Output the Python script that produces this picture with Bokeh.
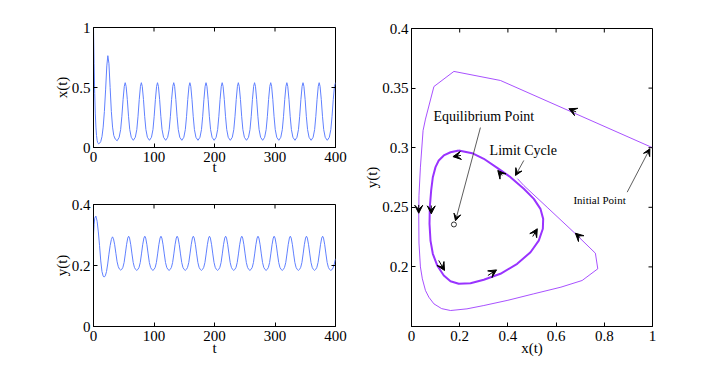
import math
from bokeh.plotting import figure
from bokeh.layouts import row, column
from bokeh.models import (Range1d, FixedTicker, Arrow, VeeHead, Label, ColumnDataSource)
from bokeh.embed import file_html
from bokeh.resources import INLINE

# ---------------- data ----------------
# x(t): time samples and values
X_T = [0, 1, 2, 3, 4, 5, 6, 7, 8.5, 10, 12, 14, 16, 18, 20, 22, 23.7, 25.5, 27.5, 29.5, 31.5, 33.5, 36,
       39.1, 42.4, 44.9, 46.9, 48.9, 50.9, 52.4, 53.9, 55.9, 57.9, 59.9, 62.4,
       65.8, 69.1, 71.6, 73.6, 75.6, 77.6, 79.1, 80.6, 82.6, 84.6, 86.6, 89.1,
       92.5, 95.8, 98.3, 100.3, 102.3, 104.3, 105.8, 107.3, 109.3, 111.3, 113.3, 115.8,
       119.3, 122.6, 125.1, 127.1, 129.1, 131.1, 132.6, 134.1, 136.1, 138.1, 140.1, 142.6,
       146.0, 149.3, 151.8, 153.8, 155.8, 157.8, 159.3, 160.8, 162.8, 164.8, 166.8, 169.3,
       172.7, 176.0, 178.5, 180.5, 182.5, 184.5, 186.0, 187.5, 189.5, 191.5, 193.5, 196.0,
       199.4, 202.7, 205.2, 207.2, 209.2, 211.2, 212.7, 214.2, 216.2, 218.2, 220.2, 222.7,
       226.1, 229.4, 231.9, 233.9, 235.9, 237.9, 239.4, 240.9, 242.9, 244.9, 246.9, 249.4,
       252.9, 256.2, 258.7, 260.7, 262.7, 264.7, 266.2, 267.7, 269.7, 271.7, 273.7, 276.2,
       279.6, 282.9, 285.4, 287.4, 289.4, 291.4, 292.9, 294.4, 296.4, 298.4, 300.4, 302.9,
       306.3, 309.6, 312.1, 314.1, 316.1, 318.1, 319.6, 321.1, 323.1, 325.1, 327.1, 329.6,
       333.0, 336.3, 338.8, 340.8, 342.8, 344.8, 346.3, 347.8, 349.8, 351.8, 353.8, 356.3,
       359.7, 363.0, 365.5, 367.5, 369.5, 371.5, 373.0, 374.5, 376.5, 378.5, 380.5, 383.0,
       386.4, 389.8, 392.3, 394.3, 396.3, 398.3, 400.0]
X_V = [1.0, 0.7, 0.45, 0.28, 0.17, 0.1, 0.06, 0.04, 0.03, 0.035, 0.05, 0.09, 0.17, 0.3, 0.48, 0.68, 0.765, 0.7, 0.5, 0.3, 0.17, 0.1, 0.07,
       0.056, 0.085, 0.15, 0.26, 0.40, 0.51, 0.54, 0.51, 0.40, 0.26, 0.15, 0.085,
       0.06, 0.085, 0.15, 0.26, 0.40, 0.51, 0.54, 0.51, 0.40, 0.26, 0.15, 0.085,
       0.06, 0.085, 0.15, 0.26, 0.40, 0.51, 0.54, 0.51, 0.40, 0.26, 0.15, 0.085,
       0.06, 0.085, 0.15, 0.26, 0.40, 0.51, 0.54, 0.51, 0.40, 0.26, 0.15, 0.085,
       0.06, 0.085, 0.15, 0.26, 0.40, 0.51, 0.54, 0.51, 0.40, 0.26, 0.15, 0.085,
       0.06, 0.085, 0.15, 0.26, 0.40, 0.51, 0.54, 0.51, 0.40, 0.26, 0.15, 0.085,
       0.06, 0.085, 0.15, 0.26, 0.40, 0.51, 0.54, 0.51, 0.40, 0.26, 0.15, 0.085,
       0.06, 0.085, 0.15, 0.26, 0.40, 0.51, 0.54, 0.51, 0.40, 0.26, 0.15, 0.085,
       0.06, 0.085, 0.15, 0.26, 0.40, 0.51, 0.54, 0.51, 0.40, 0.26, 0.15, 0.085,
       0.06, 0.085, 0.15, 0.26, 0.40, 0.51, 0.54, 0.51, 0.40, 0.26, 0.15, 0.085,
       0.06, 0.085, 0.15, 0.26, 0.40, 0.51, 0.54, 0.51, 0.40, 0.26, 0.15, 0.085,
       0.06, 0.085, 0.15, 0.26, 0.40, 0.51, 0.54, 0.51, 0.40, 0.26, 0.15, 0.085,
       0.06, 0.085, 0.15, 0.26, 0.40, 0.51, 0.54, 0.51, 0.40, 0.26, 0.15, 0.085,
       0.06, 0.085, 0.15, 0.26, 0.40, 0.51, 0.54]

# y(t): time samples and values
Y_T = [0, 1, 2, 3.9, 6, 8, 10, 12, 14, 16, 17.6, 19.5, 21.5, 23.5, 25.5, 27.5, 29.5, 31.4, 33, 35, 37, 39, 41, 43, 44.8,
       46.6, 48.6, 50.6, 52.6, 54.6, 56.6, 58.1, 59.6, 61.6, 63.6, 65.6, 67.6, 69.6, 71.5,
       73.3, 75.3, 77.3, 79.3, 81.3, 83.3, 84.8, 86.3, 88.3, 90.3, 92.3, 94.3, 96.3, 98.2,
       100.0, 102.0, 104.0, 106.0, 108.0, 110.0, 111.5, 113.0, 115.0, 117.0, 119.0, 121.0, 123.0, 125.0,
       126.8, 128.8, 130.8, 132.8, 134.8, 136.8, 138.3, 139.8, 141.8, 143.8, 145.8, 147.8, 149.8, 151.7,
       153.5, 155.5, 157.5, 159.5, 161.5, 163.5, 165.0, 166.5, 168.5, 170.5, 172.5, 174.5, 176.5, 178.4,
       180.2, 182.2, 184.2, 186.2, 188.2, 190.2, 191.7, 193.2, 195.2, 197.2, 199.2, 201.2, 203.2, 205.1,
       206.9, 208.9, 210.9, 212.9, 214.9, 216.9, 218.4, 219.9, 221.9, 223.9, 225.9, 227.9, 229.9, 231.8,
       233.6, 235.6, 237.6, 239.6, 241.6, 243.6, 245.1, 246.6, 248.6, 250.6, 252.6, 254.6, 256.6, 258.5,
       260.4, 262.4, 264.4, 266.4, 268.4, 270.4, 271.9, 273.4, 275.4, 277.4, 279.4, 281.4, 283.4, 285.3,
       287.1, 289.1, 291.1, 293.1, 295.1, 297.1, 298.6, 300.1, 302.1, 304.1, 306.1, 308.1, 310.1, 312.0,
       313.8, 315.8, 317.8, 319.8, 321.8, 323.8, 325.3, 326.8, 328.8, 330.8, 332.8, 334.8, 336.8, 338.7,
       340.5, 342.5, 344.5, 346.5, 348.5, 350.5, 352.0, 353.5, 355.5, 357.5, 359.5, 361.5, 363.5, 365.4,
       367.2, 369.2, 371.2, 373.2, 375.2, 377.2, 378.7, 380.2, 382.2, 384.2, 386.2, 388.2, 390.2, 392.1,
       394.0, 396.0, 398.0, 400.0]
Y_V = [0.30, 0.335, 0.355, 0.362, 0.345, 0.31, 0.265, 0.215, 0.18, 0.165, 0.162, 0.166, 0.18, 0.205, 0.237, 0.265, 0.285, 0.294, 0.288, 0.268, 0.24, 0.212, 0.196, 0.188, 0.185,
       0.187, 0.194, 0.21, 0.238, 0.268, 0.29, 0.296, 0.29, 0.268, 0.238, 0.21, 0.194, 0.187, 0.184,
       0.187, 0.194, 0.21, 0.238, 0.268, 0.29, 0.296, 0.29, 0.268, 0.238, 0.21, 0.194, 0.187, 0.184,
       0.187, 0.194, 0.21, 0.238, 0.268, 0.29, 0.296, 0.29, 0.268, 0.238, 0.21, 0.194, 0.187, 0.184,
       0.187, 0.194, 0.21, 0.238, 0.268, 0.29, 0.296, 0.29, 0.268, 0.238, 0.21, 0.194, 0.187, 0.184,
       0.187, 0.194, 0.21, 0.238, 0.268, 0.29, 0.296, 0.29, 0.268, 0.238, 0.21, 0.194, 0.187, 0.184,
       0.187, 0.194, 0.21, 0.238, 0.268, 0.29, 0.296, 0.29, 0.268, 0.238, 0.21, 0.194, 0.187, 0.184,
       0.187, 0.194, 0.21, 0.238, 0.268, 0.29, 0.296, 0.29, 0.268, 0.238, 0.21, 0.194, 0.187, 0.184,
       0.187, 0.194, 0.21, 0.238, 0.268, 0.29, 0.296, 0.29, 0.268, 0.238, 0.21, 0.194, 0.187, 0.184,
       0.187, 0.194, 0.21, 0.238, 0.268, 0.29, 0.296, 0.29, 0.268, 0.238, 0.21, 0.194, 0.187, 0.184,
       0.187, 0.194, 0.21, 0.238, 0.268, 0.29, 0.296, 0.29, 0.268, 0.238, 0.21, 0.194, 0.187, 0.184,
       0.187, 0.194, 0.21, 0.238, 0.268, 0.29, 0.296, 0.29, 0.268, 0.238, 0.21, 0.194, 0.187, 0.184,
       0.187, 0.194, 0.21, 0.238, 0.268, 0.29, 0.296, 0.29, 0.268, 0.238, 0.21, 0.194, 0.187, 0.184,
       0.187, 0.194, 0.21, 0.238, 0.268, 0.29, 0.296, 0.29, 0.268, 0.238, 0.21, 0.194, 0.187, 0.184,
       0.186, 0.192, 0.205, 0.222]

# phase plane: transient trajectory from the initial point
TRAJ_X = [1.0, 0.369, 0.176, 0.093, 0.058, 0.048, 0.037, 0.031, 0.030, 0.031, 0.037, 0.045, 0.058, 0.072,
          0.093, 0.125, 0.162, 0.23, 0.30, 0.40, 0.507, 0.62, 0.708, 0.773, 0.763, 0.674, 0.563, 0.466, 0.44]
TRAJ_Y = [0.300, 0.3564, 0.364, 0.3513, 0.324, 0.3144, 0.2837, 0.26, 0.2445, 0.22, 0.2, 0.19, 0.1802, 0.1746,
          0.169, 0.165, 0.1634, 0.1648, 0.1676, 0.172, 0.1774, 0.183, 0.1886, 0.1984, 0.2115, 0.229, 0.25, 0.2683, 0.274]

# phase plane: limit cycle
CYC_X = [0.196, 0.162, 0.134, 0.113, 0.0996, 0.0885, 0.0816, 0.076, 0.0747, 0.0788, 0.0885, 0.1066, 0.134,
         0.1618, 0.196, 0.2448, 0.30, 0.369, 0.4386, 0.4938, 0.528, 0.545, 0.5464, 0.535, 0.5075, 0.466,
         0.4108, 0.3556, 0.30, 0.2517, 0.196]
CYC_Y = [0.2977, 0.2962, 0.2935, 0.2893, 0.2837, 0.2753, 0.2641, 0.2501, 0.2362, 0.2221, 0.211, 0.2012, 0.1928,
         0.188, 0.1858, 0.1863, 0.1892, 0.1942, 0.2026, 0.2123, 0.2221, 0.232, 0.2403, 0.2487, 0.2571, 0.2655,
         0.2753, 0.2831, 0.2907, 0.2954, 0.2977]

# direction markers on the curves (tail -> head)
DIR_X0 = [0.205, 0.376, 0.082, 0.113, 0.317, 0.503, 0.683, 0.030, 0.700]
DIR_Y0 = [0.2935, 0.2767, 0.2515, 0.2054, 0.1928, 0.2255, 0.3300, 0.2520, 0.2245]
DIR_X1 = [0.172, 0.358, 0.082, 0.137, 0.353, 0.522, 0.653, 0.030, 0.680]
DIR_Y1 = [0.2925, 0.2809, 0.2445, 0.1970, 0.1975, 0.2320, 0.3327, 0.2450, 0.2283]

EQ_X = [0.176]
EQ_Y = [0.2356]

T_TICKS = [0, 100, 200, 300, 400]
X_TICKS = [0, 0.5, 1]
Y_TICKS = [0, 0.2, 0.4]
PX_TICKS = [0, 0.2, 0.4, 0.6, 0.8, 1]
PY_TICKS = [0.2, 0.25, 0.3, 0.35, 0.4]

FONT = "Liberation Serif"
TS_COLOR = "#6080ff"
PURPLE = "#9933ff"


def fmt(v):
    return "%g" % v


def style(p, xticks, yticks, xlabel, ylabel, xlab_standoff):
    p.xgrid.grid_line_color = None
    p.ygrid.grid_line_color = None
    p.outline_line_color = "black"
    p.outline_line_width = 1
    p.xaxis.axis_label = xlabel
    p.yaxis.axis_label = ylabel
    for ax, ticks in ((p.xaxis[0], xticks), (p.yaxis[0], yticks)):
        ax.ticker = FixedTicker(ticks=ticks)
        ax.major_label_overrides = {t: fmt(t) for t in ticks}
        ax.major_tick_in = 4
        ax.major_tick_out = 0
        ax.minor_tick_line_color = None
        ax.axis_line_color = "black"
        ax.major_tick_line_color = "black"
        ax.major_label_text_font = FONT
        ax.major_label_text_font_size = "15px"
        ax.major_label_text_color = "black"
        ax.axis_label_text_font = FONT
        ax.axis_label_text_font_size = "15px"
        ax.axis_label_text_font_style = "normal"
        ax.axis_label_text_color = "black"
    p.xaxis.major_label_standoff = 4
    p.xaxis.axis_label_standoff = xlab_standoff
    p.yaxis.major_label_standoff = 3
    p.yaxis.axis_label_standoff = -1
    # mirrored inward ticks on the top and right edges of the box
    xe = p.x_range.end
    ye = p.y_range.end
    p.ray(x=xticks, y=[ye] * len(xticks), length=4, length_units="screen",
          angle=-math.pi / 2, line_color="black", line_width=1)
    p.ray(x=[xe] * len(yticks), y=yticks, length=4, length_units="screen",
          angle=math.pi, line_color="black", line_width=1)


common = dict(output_backend="svg", toolbar_location=None, background_fill_color="white",
              border_fill_color="white")

p1 = figure(frame_width=242, frame_height=120, x_range=Range1d(0, 400), y_range=Range1d(0, 1),
            min_border_left=93, min_border_right=20, min_border_top=27, min_border_bottom=36, **common)
p1.line(X_T, X_V, line_color=TS_COLOR, line_width=1)
style(p1, T_TICKS, X_TICKS, "t", "x(t)", -6)

p2 = figure(frame_width=242, frame_height=122, x_range=Range1d(0, 400), y_range=Range1d(0, 0.4),
            min_border_left=93, min_border_right=20, min_border_top=21, min_border_bottom=40, **common)
p2.line(Y_T, Y_V, line_color=TS_COLOR, line_width=1)
style(p2, T_TICKS, Y_TICKS, "t", "y(t)", -4)

p3 = figure(frame_width=241, frame_height=298, x_range=Range1d(0, 1), y_range=Range1d(0.15, 0.4),
            min_border_left=56, min_border_right=20, min_border_top=28, min_border_bottom=40, **common)
p3.line(TRAJ_X, TRAJ_Y, line_color=PURPLE, line_width=1, line_alpha=0.85)
p3.line(CYC_X, CYC_Y, line_color=PURPLE, line_width=2)
p3.scatter(EQ_X, EQ_Y, marker="circle", size=5, fill_color=None, line_color="black", line_width=0.8)
style(p3, PX_TICKS, PY_TICKS, "x(t)", "y(t)", -4)

dir_src = ColumnDataSource(dict(x0=DIR_X0, y0=DIR_Y0, x1=DIR_X1, y1=DIR_Y1))
p3.add_layout(Arrow(end=VeeHead(size=8, fill_color="black", line_color="black", line_width=1),
                    source=dir_src, x_start="x0", y_start="y0", x_end="x1", y_end="y1",
                    line_color="black", line_width=1))

# annotations
ann = [
    ("Equilibrium Point", 0.091, 0.3264, "14px", 0.286, 0.3169, 0.1826, 0.2387),
    ("Limit Cycle", 0.324, 0.2976, "14px", 0.466, 0.2893, 0.4315, 0.2767),
    ("Initial Point", 0.672, 0.2565, "11px", 0.895, 0.2627, 0.989, 0.2991),
]
for text, tx, ty, fs, ax0, ay0, ax1, ay1 in ann:
    p3.add_layout(Label(x=tx, y=ty, text=text, text_font=FONT, text_font_size=fs,
                        text_color="black", text_baseline="alphabetic"))
    p3.add_layout(Arrow(end=VeeHead(size=7, fill_color="black", line_color="black", line_width=1),
                        x_start=ax0, y_start=ay0, x_end=ax1, y_end=ay1,
                        line_color="#333333", line_width=0.8))

layout = row(column(p1, p2, spacing=0), p3, spacing=0)
open("out.html", "w").write(file_html(layout, INLINE))
